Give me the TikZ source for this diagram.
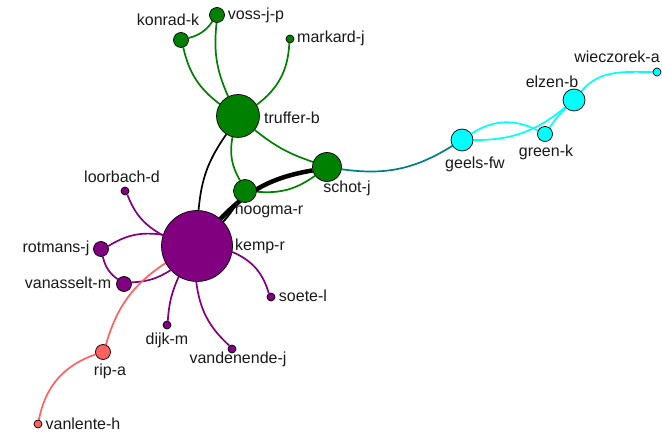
\documentclass[tikz,border=0pt]{standalone}
\usepackage{fontspec}
\setmainfont{Liberation Sans}
\usetikzlibrary{backgrounds}
\definecolor{ggreen}{RGB}{0,128,0}
\definecolor{gpurple}{RGB}{128,0,128}
\definecolor{gcyan}{RGB}{0,255,255}
\definecolor{gteal}{RGB}{0,128,128}
\definecolor{gred}{RGB}{255,96,96}

\begin{document}
\begin{tikzpicture}[x=1pt,y=1pt,
  vtx/.style={circle,draw=black,line width=0.7pt,inner sep=0pt},
  lbl/.style={font=\fontsize{16}{18}\selectfont,text=black!90,inner sep=0pt},
  gedge/.style={draw=ggreen,line width=1.7pt},
  pedge/.style={draw=gpurple,line width=1.7pt},
  cedge/.style={draw=gcyan,line width=1.7pt},
  redge/.style={draw=gred,line width=1.7pt}]
\useasboundingbox (0,0) rectangle (662,-433);
% vertices
\node[vtx,fill=gpurple,minimum size=71pt] (kemp) at (197,-246) {};
\node[vtx,fill=ggreen,minimum size=43pt] (truffer) at (238,-116) {};
\node[vtx,fill=ggreen,minimum size=29pt] (schot) at (327,-167) {};
\node[vtx,fill=ggreen,minimum size=23pt] (hoogma) at (245,-191) {};
\node[vtx,fill=ggreen,minimum size=15pt] (konrad) at (181,-40) {};
\node[vtx,fill=ggreen,minimum size=15pt] (voss) at (217,-15) {};
\node[vtx,fill=ggreen,minimum size=8pt] (markard) at (290,-39) {};
\node[vtx,fill=gcyan,minimum size=22pt] (geels) at (462,-140) {};
\node[vtx,fill=gcyan,minimum size=15pt] (green) at (545,-134) {};
\node[vtx,fill=gcyan,minimum size=22pt] (elzen) at (574,-100) {};
\node[vtx,fill=gcyan,minimum size=8pt] (wieczorek) at (657,-72) {};
\node[vtx,fill=gpurple,minimum size=8pt] (loorbach) at (125,-191) {};
\node[vtx,fill=gpurple,minimum size=15pt] (rotmans) at (101,-249) {};
\node[vtx,fill=gpurple,minimum size=15pt] (vanasselt) at (124,-284) {};
\node[vtx,fill=gpurple,minimum size=8pt] (soete) at (271,-297) {};
\node[vtx,fill=gpurple,minimum size=8pt] (dijk) at (167,-325) {};
\node[vtx,fill=gpurple,minimum size=8pt] (vandenende) at (232,-349) {};
\node[vtx,fill=gred,minimum size=15pt] (rip) at (103,-352) {};
\node[vtx,fill=gred,minimum size=8pt] (vanlente) at (38,-424) {};
% labels
\node[lbl] (kemp-t) at (260,-246) {kemp-r};
\node[lbl] (truffer-t) at (292,-118) {truffer-b};
\node[lbl] (schot-t) at (347,-188) {schot-j};
\node[lbl] (hoogma-t) at (269,-210) {hoogma-r};
\node[lbl] (konrad-t) at (168,-20) {konrad-k};
\node[lbl] (voss-t) at (256,-15) {voss-j-p};
\node[lbl] (markard-t) at (331,-38) {markard-j};
\node[lbl] (geels-t) at (475,-164) {geels-fw};
\node[lbl] (green-t) at (546,-152) {green-k};
\node[lbl] (elzen-t) at (552,-82) {elzen-b};
\node[lbl] (wieczorek-t) at (617,-57) {wieczorek-a};
\node[lbl] (loorbach-t) at (122,-177) {loorbach-d};
\node[lbl] (rotmans-t) at (56,-248) {rotmans-j};
\node[lbl] (vanasselt-t) at (68,-283) {vanasselt-m};
\node[lbl] (soete-t) at (303,-296) {soete-l};
\node[lbl] (dijk-t) at (167,-340) {dijk-m};
\node[lbl] (vandenende-t) at (238,-359) {vandenende-j};
\node[lbl] (rip-t) at (110,-371) {rip-a};
\node[lbl] (vanlente-t) at (83,-424) {vanlente-h};
% edges
\begin{scope}[on background layer]
\draw[gedge] (truffer) to[bend left=20] (konrad);
\draw[gedge] (truffer) to[bend left=15] (voss);
\draw[gedge] (konrad) to[bend right=20] (voss);
\draw[gedge] (truffer) to[bend right=25] (markard);
\draw[gedge] (truffer) to[bend right=10] (schot);
\draw[gedge] (truffer) to[bend right=20] (hoogma);
\draw[gedge] (hoogma) to[bend right=20] (schot);
\draw[black,line width=1.7pt] (truffer) to[bend right=15] (kemp);
\draw[black,line width=4.5pt] (kemp) to[bend left=18] (schot);
\draw[black,line width=2pt] (kemp) to[bend right=6] (hoogma);
\draw[gteal,line width=1.7pt] (schot) to[bend right=20] (geels);
\draw[cedge] (geels) to[bend left=30] (green);
\draw[cedge] (geels) to[bend right=20] (elzen);
\draw[cedge] (green) to[bend left=5] (elzen);
\draw[cedge] (elzen) to[out=50,in=180] (wieczorek);
\draw[pedge] (kemp) to[bend left=20] (loorbach);
\draw[pedge] (kemp) to[bend right=20] (rotmans);
\draw[pedge] (rotmans) to[bend right=20] (vanasselt);
\draw[pedge] (kemp) to[bend left=15] (vanasselt);
\draw[pedge] (kemp) to[bend left=25] (soete);
\draw[pedge] (kemp) to[bend right=10] (dijk);
\draw[pedge] (kemp) to[bend right=20] (vandenende);
\draw[redge] (kemp) to[bend right=20] (rip);
\draw[redge] (rip) to[bend right=30] (vanlente);
\end{scope}
\end{tikzpicture}
\end{document}
